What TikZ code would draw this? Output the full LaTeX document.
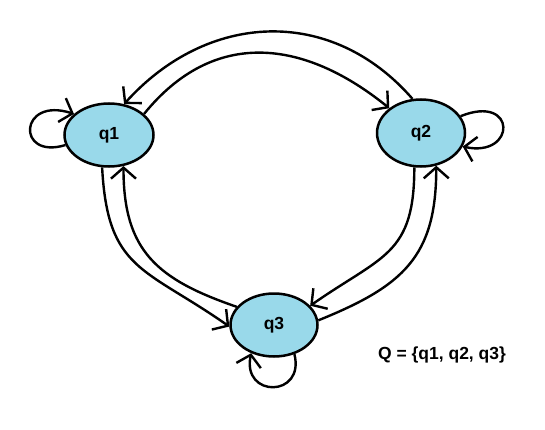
\documentclass[tikz,border=0pt]{standalone}
\usepackage{fontspec}
\setmainfont{Liberation Sans}
\usetikzlibrary{arrows.meta,shapes.geometric}
\definecolor{statefill}{RGB}{153,217,234}
\begin{document}
\begin{tikzpicture}[x=1pt,y=1pt,
  state/.style={ellipse, draw=black, line width=2.5pt, fill=statefill, inner sep=0pt,
    font=\fontsize{17.5}{20}\selectfont\bfseries},
  trans/.style={line width=2.4pt, -{Straight Barb[length=11pt,width=25pt]}}]
\useasboundingbox (0,0) rectangle (545,429);
% states
\node[state, minimum width=89pt, minimum height=63pt] (q1) at (109,294) {q1};
\node[state, minimum width=88pt, minimum height=67pt] (q2) at (421,296) {q2};
\node[state, minimum width=87pt, minimum height=63pt] (q3) at (274,104) {q3};
% set of states
\node[font=\fontsize{17.5}{20}\selectfont\bfseries] (set) at (442,74) {Q = \{q1, q2, q3\}};
% transitions between states
\draw[trans] (q2.104) to[out=131, in=48, looseness=1.1] (q1.64);
\draw[trans] (q1.31) to[out=51, in=141, looseness=1.15] (q2.142);
\draw[trans] (q1.258) to[out=-87, in=145, looseness=1.3] (q3.182);
\draw[trans] (q3.154) to[out=161, in=-90, looseness=1.2] (q1.-65);
\draw[trans] (q3.6) to[out=22, in=-90, looseness=1.2] (q2.-65);
\draw[trans] (q2.-101) to[out=-90, in=35, looseness=1.3] (q3.28);
% self loops
\draw[trans] (q1.193) .. controls +(197:52) and +(162:58) .. (q1.149);
\draw[trans] (q2.23) .. controls +(22:61) and +(-12:55) .. (q2.-18);
\draw[trans] (q3.-55) .. controls +(-76:45) and +(-102:46) .. (q3.-129);
\end{tikzpicture}
\end{document}
